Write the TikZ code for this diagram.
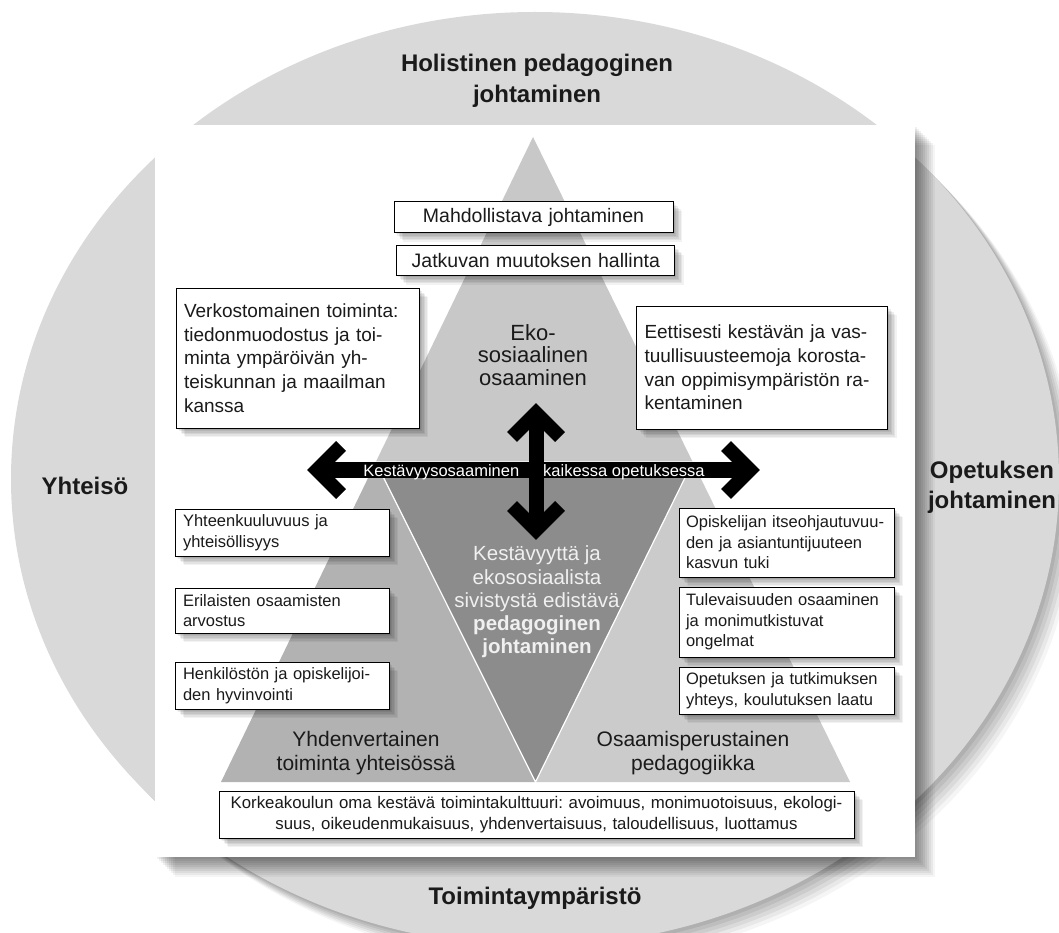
\documentclass[tikz,border=0pt]{standalone}
\usepackage{fontspec}
\setmainfont{Liberation Sans}
\usetikzlibrary{calc}
\frenchspacing
\definecolor{circ}{HTML}{D9D9D9}
\definecolor{ttop}{HTML}{C8C8C8}
\definecolor{tbl}{HTML}{B2B2B2}
\definecolor{tbr}{HTML}{CBCBCB}
\definecolor{tmid}{HTML}{8C8C8C}
\definecolor{txtlight}{HTML}{F0F0F0}
\definecolor{txtdark}{HTML}{1A1A1A}
\tikzset{
  shlayer/.style 2 args={preaction={fill=black,fill opacity=#2,transform canvas={shift={(#1pt,-#1pt)}}}},
  boxsh/.style={shlayer={1.5}{.07},shlayer={3}{.07},shlayer={4.5}{.07},shlayer={6}{.07},shlayer={7.5}{.06},shlayer={9}{.05}},
  rectsh/.style={shlayer={2}{.06},shlayer={4}{.06},shlayer={6}{.06},shlayer={8}{.06},shlayer={10}{.06},shlayer={12}{.06},shlayer={14}{.06},shlayer={16}{.05},shlayer={18}{.05},shlayer={20}{.04}},
  circsh/.style={shlayer={3}{.07},shlayer={6}{.07},shlayer={9}{.06},shlayer={12}{.06},shlayer={15}{.05},shlayer={18}{.04}},
  bx/.style={draw=black, line width=1pt, fill=white, boxsh, inner xsep=8pt, inner ysep=0pt, align=left, text=txtdark, font=\fontsize{16.5}{20.5}\selectfont},
  bigbx/.style={bx, font=\fontsize{19}{23.7}\selectfont},
  topbx/.style={bx, align=center, font=\fontsize{19.5}{23}\selectfont},
  hdr/.style={font=\bfseries\fontsize{24}{31}\selectfont, align=center, text=txtdark, inner sep=0pt},
  reg/.style={font=\fontsize{21}{23.3}\selectfont, align=center, text=txtdark, inner sep=0pt},
  ctext/.style={font=\fontsize{20.5}{23.3}\selectfont, align=center, text=txtlight, inner sep=0pt},
  shaft/.style={draw=black, line width=#1, line cap=butt},
  chev/.style={draw=black, line width=14pt, line join=miter, line cap=butt},
}
\begin{document}
\begin{tikzpicture}[x=1pt,y=-1pt]
\useasboundingbox (0,0) rectangle (1059,933);
\fill[white] (0,0) rectangle (1059,933);
\begin{scope}
\clip (0,0) rectangle (1059,933);
% outer circle
\path[fill=circ, circsh] (535,479) ellipse [x radius=524pt, y radius=467pt];
% white panel
\path[fill=white, rectsh] (155,125) rectangle (915,857);
\end{scope}
% triangle geometry
\coordinate (apex) at (533,137);
\coordinate (bl) at (221,782);
\coordinate (br) at (850,782);
\coordinate (ml) at (375.8,462);
\coordinate (mr) at (692.7,462);
\coordinate (mb) at (535.5,782);
\fill[ttop] (apex) -- (mr) -- (ml) -- cycle;
\fill[tbl] (ml) -- (mb) -- (bl) -- cycle;
\fill[tbr] (mr) -- (br) -- (mb) -- cycle;
\filldraw[fill=tmid, draw=white, line width=1.2pt] (ml) -- (mr) -- (mb) -- cycle;
% region labels
\node[reg, font=\fontsize{22}{22.5}\selectfont] (eko) at (533,355) {Eko-\\sosiaalinen\\osaaminen};
\node[reg] (yhd) at (366,753) {Yhdenvertainen\\toiminta yhteisössä};
\node[reg] (osa) at (693,753) {Osaamisperustainen\\pedagogiikka};
\node[ctext] (kes) at (537,602) {Kestävyyttä ja\\ekososiaalista\\sivistystä edistävä\\\textbf{pedagoginen}\\\textbf{johtaminen}};
% boxes
\node[topbx, text width=263pt, minimum height=31pt] (mahd) at (533.5,217.2) {Mahdollistava johtaminen};
\node[topbx, text width=262pt, minimum height=30pt] (jatk) at (535.8,260.8) {Jatkuvan muutoksen hallinta};
\node[bigbx, text width=227pt, minimum height=140pt] (verk) at (297.5,358) {Verkostomainen toiminta:\\tiedonmuodostus ja toi-\\minta ympäröivän yh-\\teiskunnan ja maailman\\kanssa};
\node[bigbx, text width=235pt, minimum height=123pt] (eett) at (762,367.5) {Eettisesti kestävän ja vas-\\tuullisuusteemoja korosta-\\van oppimisympäristön ra-\\kentaminen};
\node[bx, text width=198pt, minimum height=47pt] (yht) at (282,532.5) {Yhteenkuuluvuus ja\\yhteisöllisyys};
\node[bx, text width=198pt, minimum height=45pt] (eril) at (282,610.5) {Erilaisten osaamisten\\arvostus};
\node[bx, text width=198pt, minimum height=47pt] (henk) at (282,685.5) {Henkilöstön ja opiskelijoi-\\den hyvinvointi};
\node[bx, text width=201pt, inner xsep=7pt, minimum height=69pt] (opis) at (786.5,542.5) {Opiskelijan itseohjautuvuu-\\den ja asiantuntijuuteen\\kasvun tuki};
\node[bx, text width=201pt, inner xsep=7pt, minimum height=70pt] (tule) at (786.5,622) {Tulevaisuuden osaaminen\\ja monimutkistuvat\\ongelmat};
\node[bx, text width=201pt, inner xsep=7pt, minimum height=47pt] (opet) at (786.5,690.5) {Opetuksen ja tutkimuksen\\yhteys, koulutuksen laatu};
\node[bx, align=center, font=\fontsize{16.8}{20.7}\selectfont, text width=619pt, minimum height=47pt] (kork) at (536.5,814.5) {Korkeakoulun oma kestävä toimintakulttuuri: avoimuus, monimuotoisuus, ekologi-\\suus, oikeudenmukaisuus, yhdenvertaisuus, taloudellisuus, luottamus};
% arrows
\coordinate (hl) at (317,470);
\coordinate (hr) at (750,470);
\coordinate (vt) at (536,413);
\coordinate (vb) at (536,530);
\draw[shaft=16pt] (hl) -- (hr);
\draw[chev] ($(hl)+(24,-24)$) -- (hl) -- ($(hl)+(24,24)$);
\draw[chev] ($(hr)+(-24,-24)$) -- (hr) -- ($(hr)+(-24,24)$);
\node[font=\fontsize{16.5}{20}\selectfont, text=white, anchor=base, inner sep=0pt] (atext) at (534,476) {Kestävyysosaaminen\hspace{24pt}kaikessa opetuksessa};
\draw[shaft=15pt] (vt) -- (vb);
\draw[chev] ($(vt)+(-24,24)$) -- (vt) -- ($(vt)+(24,24)$);
\draw[chev] ($(vb)+(-24,-24)$) -- (vb) -- ($(vb)+(24,-24)$);
% headers
\node[hdr] (hol) at (537,81) {Holistinen pedagoginen\\johtaminen};
\node[hdr] (yhtei) at (85,486) {Yhteisö};
\node[hdr, font=\bfseries\fontsize{24}{30}\selectfont] (opj) at (992,487) {Opetuksen\\johtaminen};
\node[hdr] (toim) at (535,898) {Toimintaympäristö};
\end{tikzpicture}
\end{document}
